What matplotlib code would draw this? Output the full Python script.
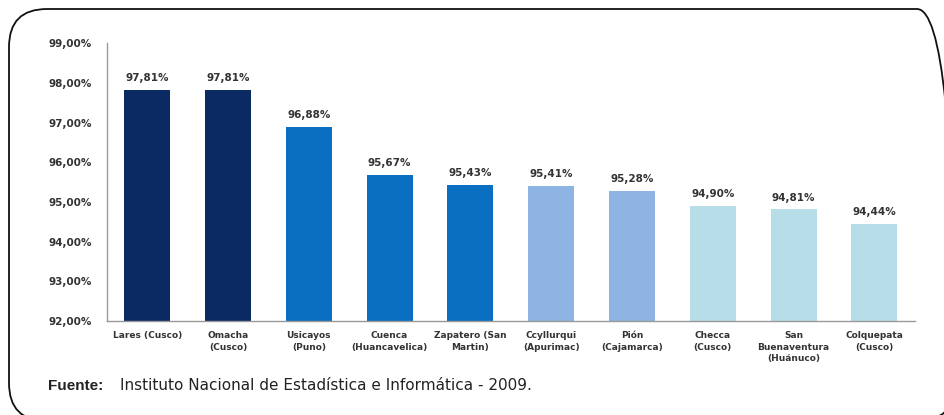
import matplotlib.pyplot as plt
from matplotlib.patches import FancyBboxPatch
from matplotlib import font_manager

# Data
lugares = ['Lares (Cusco)', 'Omacha\n(Cusco)', 'Usicayos\n(Puno)', 'Cuenca\n(Huancavelica)',
           'Zapatero (San\nMartin)', 'Ccyllurqui\n(Apurimac)', 'Pión\n(Cajamarca)',
           'Checca\n(Cusco)', 'San\nBuenaventura\n(Huánuco)', 'Colquepata\n(Cusco)']
valores = [97.81, 97.81, 96.88, 95.67, 95.43, 95.41, 95.28, 94.90, 94.81, 94.44]
colores = ['#0b2a63', '#0b2a63', '#0a6fc0', '#0a6fc0', '#0a6fc0',
           '#8db4e2', '#8db4e2', '#b6dde8', '#b6dde8', '#b6dde8']
yticks = [92, 93, 94, 95, 96, 97, 98, 99]

narrow = [f.name for f in font_manager.fontManager.ttflist if 'Narrow' in f.name]
foot_font = ['Liberation Sans Narrow'] if narrow else ['Liberation Sans']

fig = plt.figure(figsize=(9.45, 4.15), dpi=100)
ax = fig.add_axes([0.113, 0.2265, 0.855, 0.6695])

x = range(len(valores))
ax.bar(x, valores, width=0.57, color=colores, bottom=0)
ax.set_ylim(92, 99)
ax.set_xlim(-0.5, 9.5)

for i, v in enumerate(valores):
    ax.annotate(f'{v:.2f}%'.replace('.', ','), (i, v), xytext=(0, 5), textcoords='offset points',
                ha='center', va='bottom', fontsize=7.5, fontweight='bold', color='#333333')

ax.set_yticks(yticks)
ax.set_yticklabels([f'{t:.2f}%'.replace('.', ',') for t in yticks],
                   fontsize=7.5, fontweight='bold', color='#333333')
ax.set_xticks(list(x))
ax.set_xticklabels(lugares, fontsize=6.5, fontweight='bold', color='#333333', linespacing=1.4)
ax.tick_params(axis='both', length=0)
ax.tick_params(axis='y', pad=11)
ax.tick_params(axis='x', pad=7)

for s in ['top', 'right']:
    ax.spines[s].set_visible(False)
for s in ['left', 'bottom']:
    ax.spines[s].set_color('#999999')
    ax.spines[s].set_linewidth(1.0)

# rounded frame around the figure
frame = FancyBboxPatch((0.09, -0.06), 9.46, 4.12, boxstyle='round,pad=0,rounding_size=0.38',
                       transform=fig.dpi_scale_trans, fill=False, edgecolor='#111111',
                       linewidth=1.3, clip_on=False)
fig.patches.append(frame)

fig.text(0.051, 0.06, 'Fuente:', fontsize=11, fontweight='bold', color='#222222',
         family='Liberation Sans')
fig.text(0.127, 0.06, 'Instituto Nacional de Estadística e Informática - 2009.', fontsize=11,
         color='#222222', family=foot_font)

fig.savefig('out.png', dpi=100)
